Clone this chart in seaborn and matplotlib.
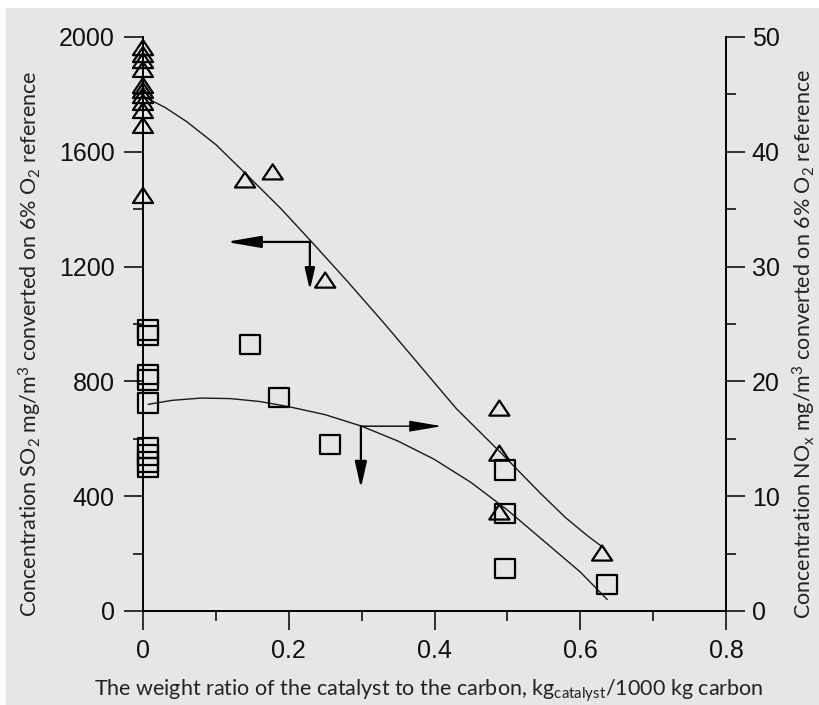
import matplotlib

matplotlib.use("Agg")
import matplotlib.pyplot as plt
import matplotlib.path as mpath
from matplotlib.patches import Rectangle
from matplotlib.ticker import MultipleLocator
import seaborn as sns

# SO2 measurements (left axis, triangles)
so2_x = [0, 0, 0, 0, 0, 0, 0, 0, 0, 0, 0,
         0.14, 0.178, 0.25, 0.489, 0.489, 0.489, 0.63]
so2_y = [1963, 1939, 1918, 1887, 1831, 1814, 1796, 1772, 1744, 1692, 1448,
         1502, 1530, 1153, 707, 550, 345, 202]

# NOx measurements (right axis, squares)
nox_x = [0.007, 0.007, 0.007, 0.007, 0.007, 0.007, 0.007, 0.007, 0.007,
         0.147, 0.187, 0.257, 0.497, 0.497, 0.497, 0.637]
nox_y = [24.5, 24.0, 20.6, 20.1, 18.1, 14.2, 13.6, 13.0, 12.5,
         23.2, 18.6, 14.5, 12.3, 8.5, 3.7, 2.3]

# fitted trend curves
so2_fit_x = [0.005, 0.03, 0.06, 0.1, 0.14, 0.19, 0.23, 0.28, 0.33, 0.38, 0.43,
             0.49, 0.545, 0.58, 0.61, 0.631]
so2_fit_y = [1787, 1755, 1705, 1625, 1526, 1400, 1290, 1150, 1005, 855, 705,
             554, 411, 325, 262, 222]
nox_fit_x = [0.007, 0.04, 0.08, 0.12, 0.16, 0.2, 0.25, 0.3, 0.35, 0.4, 0.45,
             0.5, 0.55, 0.6, 0.637]
nox_fit_y = [18.0, 18.35, 18.55, 18.5, 18.25, 17.8, 17.1, 16.1, 14.8, 13.2, 11.2,
             8.8, 6.1, 3.4, 1.0]

# axis-pointer arrows: corner point, tip of horizontal, tip of vertical
so2_arrow = {"corner": (0.229, 1286), "left": 0.114, "down": 1118}
nox_arrow = {"corner": (0.299, 16.1), "right": 0.41, "down": 10.7}

x_ticks = [0, 0.2, 0.4, 0.6, 0.8]
x_ticklabels = ["0", "0.2", "0.4", "0.6", "0.8"]
so2_ticks = [0, 400, 800, 1200, 1600, 2000]
nox_ticks = [0, 10, 20, 30, 40, 50]

sns.set_style("ticks")
plt.rcParams["font.family"] = ["Liberation Sans", "DejaVu Sans"]
plt.rcParams["mathtext.default"] = "regular"

BG = "#e6e6e6"
label_font = ["Lato", "DejaVu Sans"]

fig = plt.figure(figsize=(8.19, 7.05), dpi=100)
fig.add_artist(Rectangle((6 / 819, 0), 1, 1 - 8 / 705, transform=fig.transFigure,
                         facecolor=BG, edgecolor="none", zorder=-5))
ax = fig.add_axes([143 / 819, 94 / 705, 583 / 819, 574 / 705])
ax.set_facecolor("none")
ax2 = ax.twinx()
ax2.set_facecolor("none")

tri = mpath.Path([(-1, -0.75), (1, -0.75), (0, 0.75), (-1, -0.75)], closed=True)

sns.lineplot(x=so2_fit_x, y=so2_fit_y, ax=ax, color="#1a1a1a", lw=1.0)
sns.scatterplot(x=so2_x, y=so2_y, ax=ax, marker=tri, s=210, facecolor="none",
                edgecolor="black", linewidth=1.6, clip_on=False, zorder=3)

sns.lineplot(x=nox_fit_x, y=nox_fit_y, ax=ax2, color="#1a1a1a", lw=1.0)
sns.scatterplot(x=nox_x, y=nox_y, ax=ax2, marker="s", s=200, facecolor="none",
                edgecolor="black", linewidth=1.6, clip_on=False, zorder=3)


def pointer(axis, start, end, lw, hl, hw):
    axis.annotate("", xy=end, xytext=start,
                  arrowprops=dict(arrowstyle=f"-|>,head_length={hl},head_width={hw}",
                                  color="black", lw=lw, shrinkA=0, shrinkB=0,
                                  mutation_scale=10))


cx, cy = so2_arrow["corner"]
pointer(ax, (cx, cy), (so2_arrow["left"], cy), 1.6, 2.1, 0.36)
pointer(ax, (cx, cy), (cx, so2_arrow["down"]), 1.6, 1.3, 0.3)
cx, cy = nox_arrow["corner"]
pointer(ax2, (cx, cy), (nox_arrow["right"], cy), 1.0, 2.0, 0.34)
pointer(ax2, (cx, cy), (cx, nox_arrow["down"]), 1.6, 1.6, 0.36)

ax.set_xlim(0, 0.8)
ax.set_ylim(0, 2000)
ax2.set_ylim(0, 50)
ax.set_xticks(x_ticks)
ax.set_xticklabels(x_ticklabels)
ax.set_yticks(so2_ticks)
ax2.set_yticks(nox_ticks)
ax.xaxis.set_minor_locator(MultipleLocator(0.1))
ax.yaxis.set_minor_locator(MultipleLocator(200))
ax2.yaxis.set_minor_locator(MultipleLocator(5))

for a in (ax, ax2):
    a.spines["top"].set_visible(False)
    for s in ("left", "right", "bottom"):
        a.spines[s].set_linewidth(1.2)
        a.spines[s].set_color("black")
    a.tick_params(which="major", direction="out", length=13.5, width=1.1,
                  labelsize=18, color="black", labelcolor="#111111")
    a.tick_params(which="minor", direction="out", length=7, width=1.1, color="black")
ax.tick_params(axis="x", which="major", pad=7)
ax.tick_params(axis="y", which="major", pad=7)
ax2.tick_params(axis="y", which="major", pad=5)

ax.set_xlabel("The weight ratio of the catalyst to the carbon, kg$_{catalyst}$/1000 kg carbon",
              fontsize=15.5, family=label_font, color="#222222")
ax.xaxis.set_label_coords(0.49, -0.115)
ax.set_ylabel("Concentration SO$_2$ mg/m$^3$ converted on 6% O$_2$ reference",
              fontsize=15.5, family=label_font, color="#222222")
ax.yaxis.set_label_coords(-0.17, 0.465)
ax2.set_ylabel("Concentration NO$_x$ mg/m$^3$ converted on 6% O$_2$ reference",
               fontsize=15.5, family=label_font, color="#222222")
ax2.yaxis.set_label_coords(1.112, 0.465)

fig.savefig("out.png", dpi=100, facecolor="white")
plt.close(fig)
